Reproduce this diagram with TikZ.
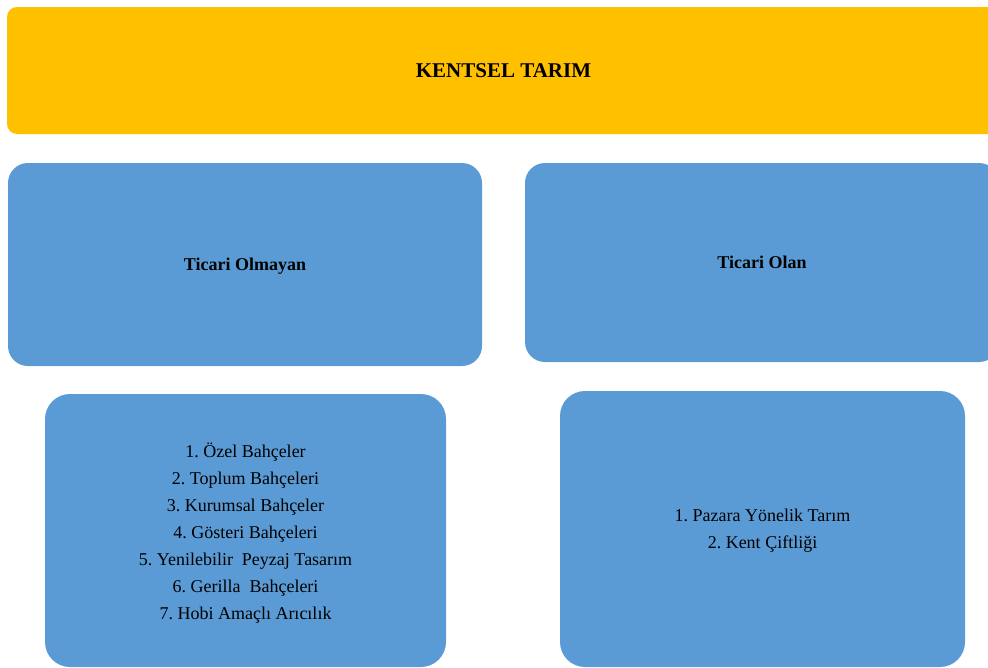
\documentclass[tikz,border=0pt]{standalone}
\usepackage{fontspec}
\setmainfont{Liberation Serif}
\usetikzlibrary{positioning}
\definecolor{sari}{HTML}{FFC000}
\definecolor{mavi}{HTML}{5B9BD5}
\frenchspacing
\tikzset{
  baslik/.style = {fill=sari, rounded corners=10pt, inner sep=0pt, font=\fontsize{21}{25}\selectfont\bfseries},
  kutu/.style = {fill=mavi, rounded corners=20pt, inner sep=0pt, align=center, font=\fontsize{18}{27}\selectfont}
}
\begin{document}
\begin{tikzpicture}[x=1pt, y=-1pt]
\useasboundingbox (0,0) rectangle (988,667);
\clip (0,0) rectangle (988,667);
\node[baslik, minimum width=993pt, minimum height=127pt] (kt) at (503.5,70.5) {KENTSEL TARIM};
\node[kutu, minimum width=474pt, minimum height=203pt] (to) at (245,264.5) {};
\node[font=\fontsize{18}{27}\selectfont\bfseries] (tot) at ([yshift=-2pt]to.center) {Ticari Olmayan};
\node[kutu, minimum width=474pt, minimum height=199pt, font=\fontsize{18}{27}\selectfont\bfseries] (tol) at (762,262.5) {Ticari Olan};
\node[kutu, rounded corners=25pt, minimum width=401pt, minimum height=273pt] (liste1) at (245.5,530.5) {};
\node[align=center, font=\fontsize{18}{27}\selectfont] (l1) at ([yshift=-3pt]liste1.center) {1. Özel Bahçeler\\
2. Toplum Bahçeleri\\
3. Kurumsal Bahçeler\\
4. Gösteri Bahçeleri\\
5. Yenilebilir\ \ Peyzaj Tasarım\\
6. Gerilla\ \ Bahçeleri\\
7. Hobi Amaçlı Arıcılık};
\node[kutu, rounded corners=25pt, minimum width=405pt, minimum height=276pt] (liste2) at (762.5,529) {};
\node[align=center, font=\fontsize{18}{27}\selectfont] (l2) at ([yshift=-2pt]liste2.center) {1. Pazara Yönelik Tarım\\
2. Kent Çiftliği};
\end{tikzpicture}
\end{document}
